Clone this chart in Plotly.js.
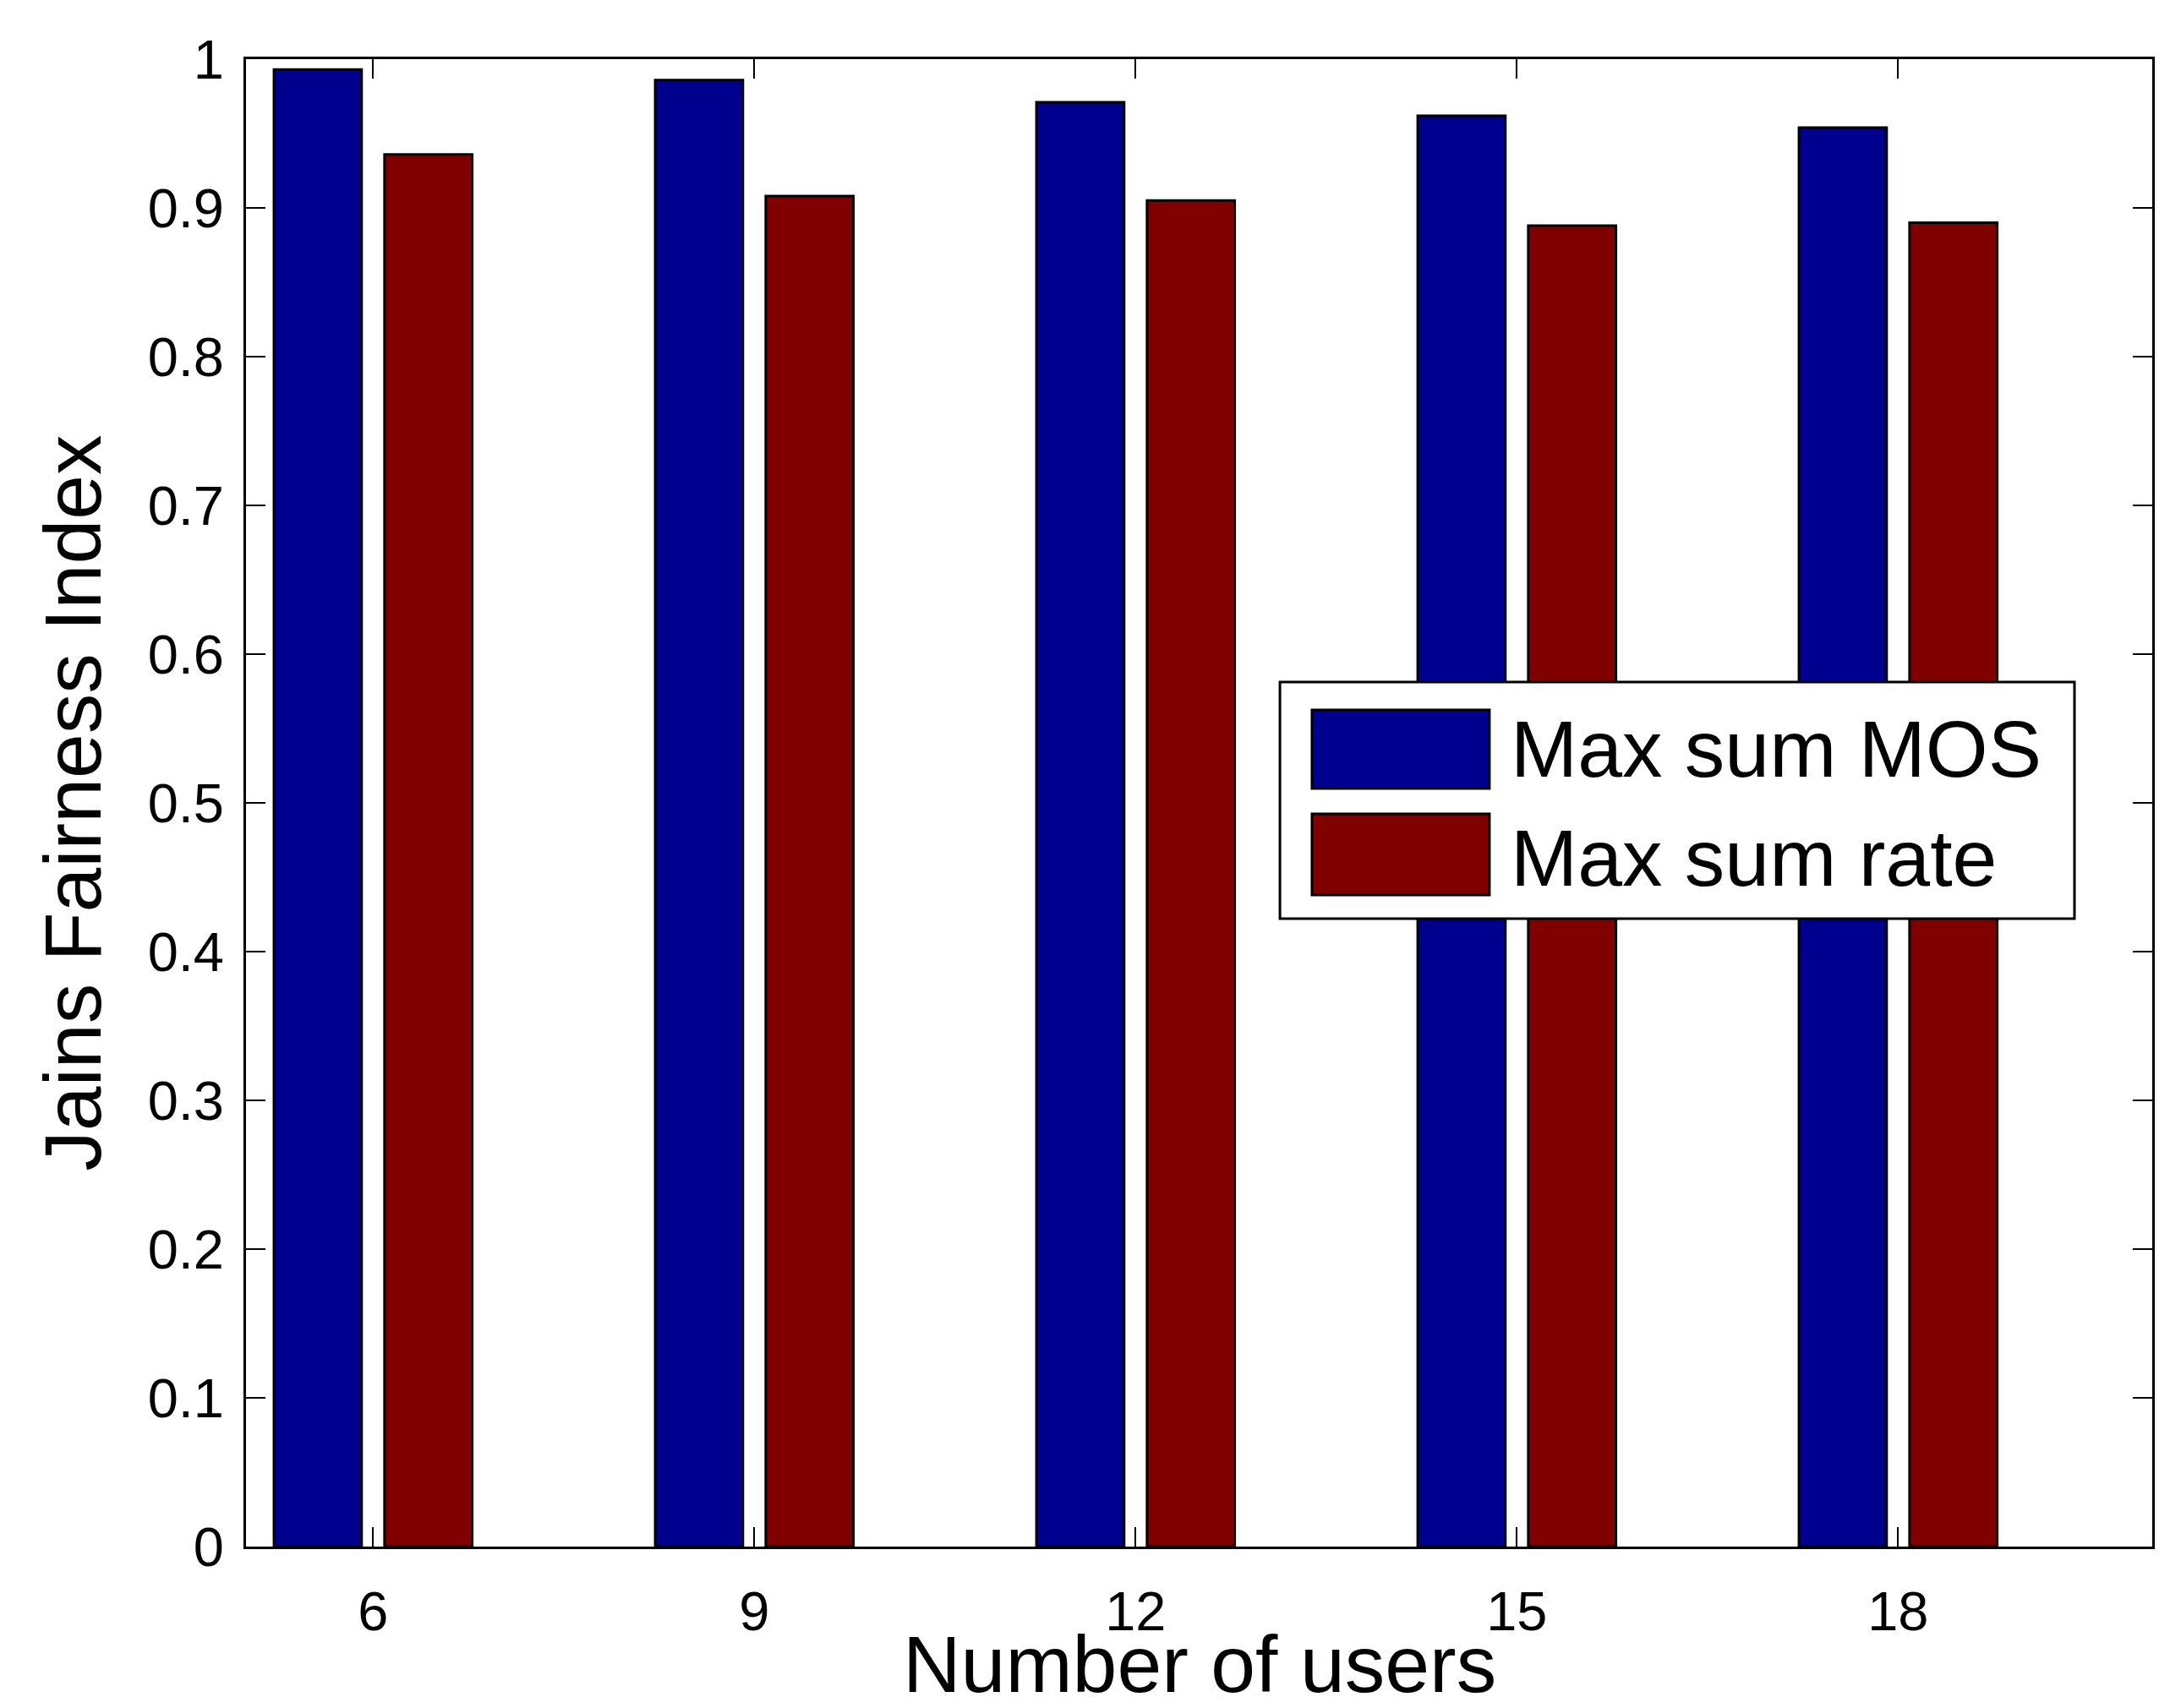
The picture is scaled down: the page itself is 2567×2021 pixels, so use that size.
<!DOCTYPE html>
<html>
<head>
<meta charset="utf-8">
<script src="https://cdn.plot.ly/plotly-3.0.1.min.js"></script>
<style>html,body{margin:0;padding:0;background:#fff;}#chart{width:2567px;height:2021px;}</style>
</head>
<body>
<div id="chart"></div>
<script>
const users = [6, 9, 12, 15, 18];
const maxSumMOS = [0.993, 0.986, 0.971, 0.962, 0.954];
const maxSumRate = [0.936, 0.908, 0.905, 0.888, 0.890];
const seriesNames = ["Max sum MOS", "Max sum rate"];
const seriesColors = ["#00008f", "#800000"];
const yTicks = [0, 0.1, 0.2, 0.3, 0.4, 0.5, 0.6, 0.7, 0.8, 0.9, 1];
const yTickText = ["0", "0.1", "0.2", "0.3", "0.4", "0.5", "0.6", "0.7", "0.8", "0.9", "1"];
const xTitle = "Number of users";
const yTitle = "Jains Fairness Index";

const FONT = "Liberation Sans, Arial, Helvetica, sans-serif";

const traces = [maxSumMOS, maxSumRate].map((vals, i) => ({
  type: "bar",
  x: users,
  y: vals,
  name: seriesNames[i],
  marker: {color: seriesColors[i], line: {color: "#000", width: 3}},
  showlegend: false,
  hoverinfo: "x+y+name"
}));

// Custom legend drawn to match MATLAB's large swatches
const legendBox = {x0: 0.5424, x1: 0.9592, y0: 0.4222, y1: 0.5813};
const swatchX = [0.5592, 0.6523];
const swatchY = [[0.5097, 0.5625], [0.4381, 0.4926]];
const textX = 0.6625;
const textY = [0.5364, 0.4631];

const shapes = [{
  type: "rect", xref: "paper", yref: "paper", layer: "above",
  x0: legendBox.x0, x1: legendBox.x1, y0: legendBox.y0, y1: legendBox.y1,
  fillcolor: "#fff", line: {color: "#000", width: 3}
}];
const annotations = [];
seriesNames.forEach((name, i) => {
  shapes.push({
    type: "rect", xref: "paper", yref: "paper", layer: "above",
    x0: swatchX[0], x1: swatchX[1], y0: swatchY[i][0], y1: swatchY[i][1],
    fillcolor: seriesColors[i], line: {color: "#000", width: 3}
  });
  annotations.push({
    xref: "paper", yref: "paper", x: textX, y: textY[i],
    xanchor: "left", yanchor: "middle", showarrow: false,
    text: name, font: {family: FONT, size: 95, color: "#000"}
  });
});
// x-axis title placed as annotation for exact positioning
annotations.push({
  xref: "paper", yref: "paper", x: 0.5, y: -0.079,
  xanchor: "center", yanchor: "middle", showarrow: false,
  text: xTitle, font: {family: FONT, size: 95, color: "#000"}
});

const layout = {
  width: 2567, height: 2021,
  margin: {l: 291, r: 21, t: 70, b: 191, pad: 0},
  paper_bgcolor: "#fff", plot_bgcolor: "#fff",
  barmode: "group", bargap: 0.42, bargroupgap: 0.207,
  font: {family: FONT, color: "#000"},
  xaxis: {
    range: [5, 20], tickmode: "array", tickvals: users, ticktext: users.map(String),
    ticks: "inside", ticklen: 23, tickwidth: 2, tickcolor: "#000",
    showline: true, linecolor: "#000", linewidth: 3, mirror: "ticks",
    showgrid: false, zeroline: false, automargin: false,
    tickfont: {family: FONT, size: 65, color: "#000"},
    ticklabelstandoff: 18
  },
  yaxis: {
    range: [0, 1], tickmode: "array", tickvals: yTicks, ticktext: yTickText,
    ticks: "inside", ticklen: 23, tickwidth: 2, tickcolor: "#000",
    showline: true, linecolor: "#000", linewidth: 3, mirror: "ticks",
    showgrid: false, zeroline: false, automargin: false,
    tickfont: {family: FONT, size: 65, color: "#000"},
    ticklabelstandoff: 10,
    title: {text: yTitle, font: {family: FONT, size: 95, color: "#000"}, standoff: 24}
  },
  shapes: shapes,
  annotations: annotations
};

Plotly.newPlot("chart", traces, layout, {displayModeBar: false, staticPlot: true});
</script>
</body>
</html>
